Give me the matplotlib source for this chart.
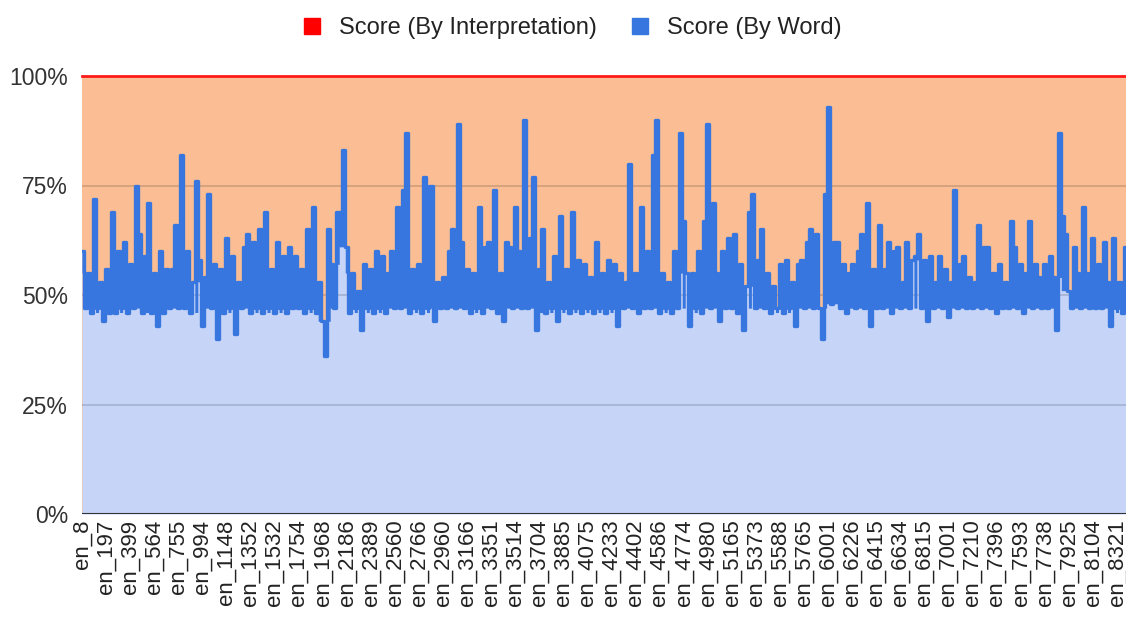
import matplotlib.pyplot as plt
import numpy as np
from matplotlib.lines import Line2D

plt.rcParams['font.family'] = ['Liberation Sans', 'DejaVu Sans']

# labels shown on the x axis (every 8th item)
tick_labels = ['en_8', 'en_197', 'en_399', 'en_564', 'en_755', 'en_994', 'en_1148',
               'en_1352', 'en_1532', 'en_1754', 'en_1968', 'en_2186', 'en_2389',
               'en_2560', 'en_2766', 'en_2960', 'en_3166', 'en_3351', 'en_3514',
               'en_3704', 'en_3885', 'en_4075', 'en_4233', 'en_4402', 'en_4586',
               'en_4774', 'en_4980', 'en_5165', 'en_5373', 'en_5588', 'en_5765',
               'en_6001', 'en_6226', 'en_6415', 'en_6634', 'en_6815', 'en_7001',
               'en_7210', 'en_7396', 'en_7593', 'en_7738', 'en_7925', 'en_8104',
               'en_8321']

# score by word in % (8 items per label)
word_score = [
    60, 47, 55, 46, 72, 47, 53, 44,
    56, 46, 69, 46, 60, 47, 62, 46,
    57, 47, 75, 64, 46, 59, 71, 46,
    55, 43, 60, 46, 56, 47, 56, 66,
    47, 82, 47, 60, 46, 53, 76, 58,
    43, 54, 73, 47, 57, 40, 56, 46,
    63, 47, 59, 41, 53, 47, 61, 64,
    46, 62, 47, 65, 46, 69, 47, 56,
    46, 62, 47, 59, 46, 61, 47, 59,
    47, 56, 46, 65, 47, 70, 46, 53,
    44, 36, 65, 57, 47, 69, 69, 83,
    61, 46, 55, 47, 51, 42, 57, 47,
    56, 46, 60, 47, 59, 46, 55, 60,
    47, 70, 47, 74, 87, 46, 56, 47,
    57, 46, 77, 47, 75, 44, 53, 47,
    54, 47, 60, 65, 47, 89, 62, 47,
    56, 46, 55, 47, 70, 46, 61, 62,
    47, 74, 46, 55, 44, 62, 61, 47,
    70, 60, 47, 90, 47, 63, 77, 42,
    56, 65, 46, 53, 47, 59, 44, 68,
    47, 56, 46, 69, 47, 58, 46, 57,
    47, 54, 46, 62, 47, 55, 46, 58,
    47, 57, 43, 55, 47, 53, 80, 47,
    55, 46, 70, 47, 60, 47, 82, 90,
    46, 55, 47, 53, 46, 60, 47, 87,
    67, 55, 43, 55, 47, 60, 46, 67,
    89, 47, 71, 55, 44, 60, 47, 63,
    47, 64, 46, 57, 42, 52, 69, 73,
    47, 58, 65, 47, 55, 46, 52, 47,
    57, 46, 58, 47, 53, 43, 57, 58,
    47, 62, 65, 47, 64, 47, 40, 73,
    93, 48, 62, 62, 47, 57, 46, 55,
    57, 47, 60, 64, 47, 71, 43, 56,
    47, 66, 47, 56, 62, 46, 60, 61,
    47, 53, 62, 47, 58, 59, 64, 47,
    58, 44, 59, 47, 53, 59, 47, 56,
    45, 53, 74, 47, 57, 59, 47, 54,
    47, 53, 66, 47, 61, 61, 47, 55,
    46, 57, 47, 53, 47, 67, 61, 47,
    57, 46, 55, 67, 47, 57, 54, 47,
    57, 47, 59, 54, 42, 87, 68, 64,
    51, 47, 61, 55, 47, 70, 55, 47,
    63, 47, 57, 47, 62, 53, 43, 63,
    47, 53, 46, 61,
]

# score by interpretation: 100% everywhere
interp_score = [100] * len(word_score)

x = np.arange(len(word_score))
y = np.array(word_score, dtype=float)

# untere kante des dichten bandes (zweitkleinster wert der nachbarn)
padded = np.pad(y, 2, mode='edge')
band_low = np.sort(np.lib.stride_tricks.sliding_window_view(padded, 5), axis=1)[:, 1]

fig = plt.figure(figsize=(11.26, 6.17), dpi=100)
ax = fig.add_axes([82 / 1126, 103 / 617, 1044 / 1126, 438 / 617])

# flächen
ax.fill_between(x, 0, interp_score, color='#fbbd93', lw=0, zorder=1)
ax.fill_between(x, 0, y, color='#c6d4f8', lw=0, zorder=2, step='mid')

# gitterlinien
for g in (25, 50, 75):
    ax.axhline(g, color='black', alpha=0.17, lw=1.2, zorder=3)

ax.fill_between(x, band_low, y, color='#3776de', lw=0, zorder=4, step='mid')
ax.plot(x, y, color='#3776de', lw=2.4, zorder=4, drawstyle='steps-mid')
ax.plot(x, interp_score, color='#ff1a1a', lw=2, zorder=5, clip_on=False)
ax.axhline(0, color='#333333', lw=1.5, zorder=6)

ax.set_xlim(0, len(word_score) - 1)
ax.set_ylim(0, 100)
for s in ax.spines.values():
    s.set_visible(False)

ax.set_xticks(x[::8])
ax.set_xticklabels(tick_labels, rotation=90, fontsize=16, color='#222222')
ax.set_yticks([0, 25, 50, 75, 100])
ax.set_yticklabels(['0%', '25%', '50%', '75%', '100%'], fontsize=16.5, color='#333333')
ax.tick_params(length=0, pad=4)
ax.tick_params(axis='y', pad=10)

handles = [Line2D([], [], ls='', marker='s', ms=12, color='#ff0000'),
           Line2D([], [], ls='', marker='s', ms=12, color='#3776de')]
fig.legend(handles, ['Score (By Interpretation)', 'Score (By Word)'],
           loc='center', bbox_to_anchor=(572 / 1126, 1 - 28 / 617), ncol=2,
           frameon=False, fontsize=17, handlelength=0.8, handletextpad=0.75,
           columnspacing=1.4, labelcolor='#222222')

plt.savefig('out.png', dpi=100)
